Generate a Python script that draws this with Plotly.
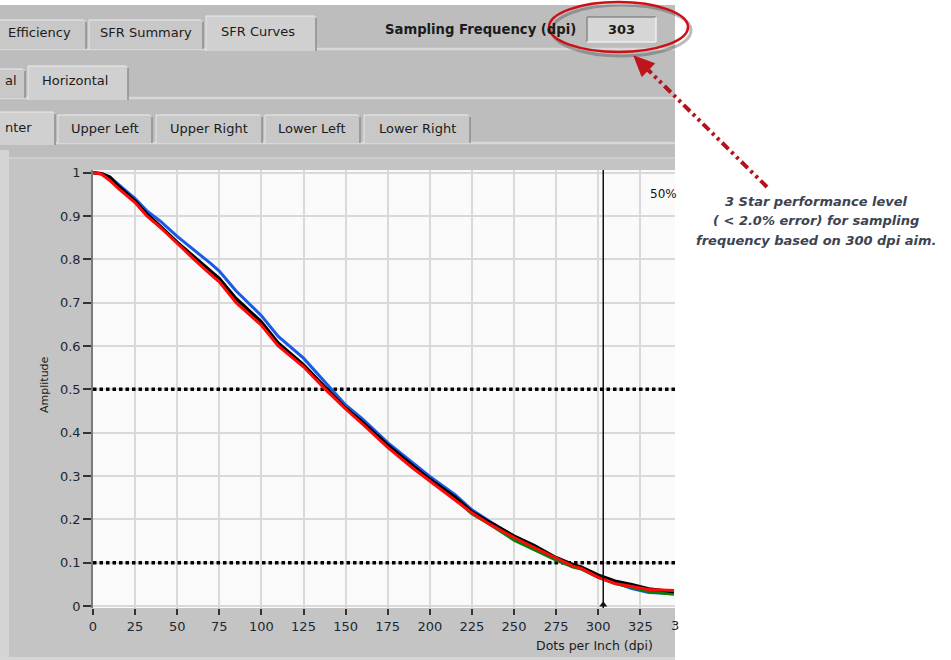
import plotly.graph_objects as go

# ---------------- data ----------------
dpi = [0, 5, 10, 15, 25, 32, 40, 50, 60, 70, 75, 85, 100, 110, 125, 138, 150, 160,
       175, 190, 200, 215, 225, 235, 250, 262, 275, 285, 290, 300, 310, 320, 330, 345]
red = [1, .997, .982, .964, .931, .90, .874, .836, .80, .765, .748, .70, .648, .60, .552, .50, .455, .42,
       .366, .318, .288, .245, .215, .19, .158, .135, .11, .092, .087, .066, .052, .045, .038, .036]
black = [1, .998, .99, .97, .935, .905, .877, .84, .806, .772, .756, .71, .656, .607, .557, .505, .457, .425,
         .372, .324, .293, .252, .218, .195, .162, .14, .112, .096, .09, .072, .058, .05, .04, .033]
green = [1, .997, .985, .966, .932, .902, .874, .838, .804, .77, .753, .707, .653, .605, .555, .503, .457, .423,
         .37, .32, .29, .247, .213, .19, .152, .13, .106, .09, .085, .066, .052, .043, .033, .027]
blue = [1, .998, .99, .973, .94, .912, .888, .853, .822, .79, .773, .727, .67, .622, .572, .515, .464, .432,
        .377, .33, .299, .257, .222, .197, .16, .136, .11, .092, .087, .067, .053, .04, .031, .029]
thresholds = [0.5, 0.1]
cursor_dpi = 303
x_ticks = [0, 25, 50, 75, 100, 125, 150, 175, 200, 225, 250, 275, 300, 325]
y_ticks = [0, 0.1, 0.2, 0.3, 0.4, 0.5, 0.6, 0.7, 0.8, 0.9, 1]
y_ticktext = ["0", "0.1", "0.2", "0.3", "0.4", "0.5", "0.6", "0.7", "0.8", "0.9", "1"]
tabs_row1 = ["Efficiency", "SFR Summary", "SFR Curves"]
tabs_row2 = ["al", "Horizontal"]
tabs_row3 = ["nter", "Upper Left", "Upper Right", "Lower Left", "Lower Right"]
sampling_label = "Sampling Frequency (dpi)"
sampling_value = "303"
note_lines = ["3 Star performance level", "( < 2.0% error) for sampling", "frequency based on 300 dpi aim."]

# ---------------- geometry helpers ----------------
W, H = 951, 660
PL, PR, PT, PB = 93, 675, 170, 608
PX_PER_DPI = 1.684
X_MAX = (PR - PL) / PX_PER_DPI
Y_RANGE = [-0.0046, 1.0062]


def fx(x):
    return (x - PL) / (PR - PL)


def fy(y):
    return (PB - y) / (PB - PT)


shapes = []
annotations = []


def rect(x0, y0, x1, y1, fill, line=None, lw=0, layer="below"):
    shapes.append(dict(type="rect", xref="paper", yref="paper",
                       x0=fx(x0), x1=fx(x1), y0=fy(y1), y1=fy(y0),
                       fillcolor=fill, line=dict(color=line or fill, width=lw), layer=layer))


def seg(x0, y0, x1, y1, color, w=1, dash="solid", layer="below"):
    shapes.append(dict(type="line", xref="paper", yref="paper",
                       x0=fx(x0), x1=fx(x1), y0=fy(y0), y1=fy(y1),
                       line=dict(color=color, width=w, dash=dash), layer=layer))


def text(x, y, s, size=13, color="#1b1b1b", anchor="center", angle=0, family="DejaVu Sans"):
    annotations.append(dict(xref="paper", yref="paper", x=fx(x), y=fy(y), text=s,
                            showarrow=False, xanchor=anchor, yanchor="middle", textangle=angle,
                            font=dict(size=size, color=color, family=family)))


PANEL = "#bdbdbd"
TAB = "#c8c8c8"
TAB_SEL = "#d0d0d0"
LIGHT = "#d8d8d8"
FRAME = "#c4c4c4"


def tab(x0, x1, y0, y1, sel=False):
    rect(x0, y0, x1, y1, TAB_SEL if sel else TAB)
    seg(x0, y0, x1 - 2, y0, "#ececec", 1)
    seg(x0, y0, x0, y1, "#e6e6e6", 1)
    seg(x1, y0 + 2, x1, y1, "#8e8e8e", 1.5)


# main panel
rect(0, 5, 675, 660, PANEL)
# row 1
seg(0, 49, 675, 49, LIGHT, 2.5)
tab(-6, 86, 20, 49)
tab(89, 203, 20, 49)
tab(206, 316, 16, 51, True)
text(6, 33, tabs_row1[0], anchor="left")
text(146, 33, tabs_row1[1])
text(258, 31, tabs_row1[2])
text(480, 30, "<b>" + sampling_label + "</b>", size=13.2)
rect(587, 17, 656, 42, "#d6d6d6")
seg(587, 17, 656, 17, "#8a8a8a", 1.5)
seg(587, 17, 587, 42, "#8a8a8a", 1.5)
seg(587, 42, 656, 42, "#eeeeee", 1.5)
seg(656, 17, 656, 42, "#eeeeee", 1.5)
text(621, 30, "<b>" + sampling_value + "</b>", size=13)
# row 2
seg(0, 98, 675, 98, LIGHT, 2.5)
tab(-6, 25, 69, 98)
tab(28, 128, 66, 100, True)
text(3, 81, tabs_row2[0], anchor="left")
text(75, 80, tabs_row2[1])
# row 3
seg(0, 143, 675, 143, LIGHT, 2.5)
tab(-6, 55, 112, 145, True)
tab(58, 152, 115, 143)
tab(156, 262, 115, 143)
tab(265, 360, 115, 143)
tab(364, 470, 115, 143)
text(3, 127, tabs_row3[0], anchor="left")
text(105, 128, tabs_row3[1])
text(209, 128, tabs_row3[2])
text(312, 128, tabs_row3[3])
text(417, 128, tabs_row3[4])
# graph frame
rect(0, 150, 9, 660, "#d4d4d4")
rect(9, 158, 675, 657, FRAME)
seg(9, 158, 675, 158, "#d2d2d2", 1.5)
rect(0, 657, 675, 660, "#d6d6d6")
rect(PL, PT, PR, PB, "#fafafa")

# axis titles & cut labels
text(44, 384, "Amplitude", size=11, angle=-90)
text(594, 645, "Dots per Inch (dpi)", size=12.5)
text(669, 625, "3", size=13, color="#1c2733", anchor="left")
text(648, 194, "50%", size=12, color="#111111", anchor="left")

# red ellipse highlight with shadow
shapes.append(dict(type="circle", xref="paper", yref="paper", x0=fx(552), x1=fx(691), y0=fy(56), y1=fy(5),
                   line=dict(color="rgba(60,60,60,0.35)", width=3), layer="above"))
shapes.append(dict(type="circle", xref="paper", yref="paper", x0=fx(549), x1=fx(688), y0=fy(52), y1=fy(2),
                   line=dict(color="#cc1016", width=2.5), layer="above"))

# dash-dot-dot arrow
tail = (767, 187)
tip = (634, 56)
dxv, dyv = tip[0] - tail[0], tip[1] - tail[1]
L = (dxv ** 2 + dyv ** 2) ** 0.5
ux, uy = dxv / L, dyv / L
hl, hw = 20, 9
bx, by = tip[0] - hl * ux, tip[1] - hl * uy
px_, py_ = -uy, ux
seg(tail[0], tail[1], bx, by, "#b3141c", 4, dash="9px,4px,3px,4px,3px,4px", layer="above")
p1 = (bx + hw * px_, by + hw * py_)
p2 = (bx - hw * px_, by - hw * py_)
path = "M {} {} L {} {} L {} {} Z".format(fx(tip[0]), fy(tip[1]), fx(p1[0]), fy(p1[1]), fx(p2[0]), fy(p2[1]))
shapes.append(dict(type="path", xref="paper", yref="paper", path=path,
                   fillcolor="#c0141c", line=dict(color="#c0141c", width=1), layer="above"))

# note text
for i, ln in enumerate(note_lines):
    text(816, 201 + i * 19.5, "<b><i>" + ln + "</i></b>", size=13, color="#3c4450")

# cursor line
shapes.append(dict(type="line", xref="x", yref="paper", x0=cursor_dpi, x1=cursor_dpi, y0=0, y1=1,
                   line=dict(color="#111111", width=1.5), layer="above"))

# ---------------- traces ----------------
fig = go.Figure()
for t in thresholds:
    fig.add_trace(go.Scatter(x=[0, X_MAX], y=[t, t], mode="lines",
                             line=dict(color="black", width=3.5, dash="3.5px,3px"),
                             hoverinfo="skip", showlegend=False))
for ys, col in [(blue, "#1a5ae6"), (green, "#0b7d0b"), (black, "#000000"), (red, "#ff0a0a")]:
    fig.add_trace(go.Scatter(x=dpi, y=ys, mode="lines", line=dict(color=col, width=3),
                             showlegend=False))
fig.add_trace(go.Scatter(x=[cursor_dpi], y=[0.003], mode="markers",
                         marker=dict(symbol="triangle-up", size=7, color="#111111"),
                         showlegend=False, cliponaxis=False))

fig.update_layout(
    width=W, height=H,
    margin=dict(l=PL, r=W - PR, t=PT, b=H - PB, pad=0),
    paper_bgcolor="white", plot_bgcolor="#fafafa",
    shapes=shapes, annotations=annotations,
    font=dict(family="DejaVu Sans", size=13, color="#1c2733"),
    xaxis=dict(range=[0, X_MAX], tickvals=x_ticks, showgrid=True, gridcolor="#d9d9d9", gridwidth=1.5,
               zeroline=False, showline=False, ticks="outside", ticklen=6, tickwidth=1.5,
               tickcolor="#333333", tickfont=dict(size=13, color="#1c2733")),
    yaxis=dict(range=Y_RANGE, tickvals=y_ticks, ticktext=y_ticktext, showgrid=True, gridcolor="#d9d9d9",
               gridwidth=1.5, zeroline=False, showline=True, linecolor="#7a7a7a", linewidth=1.5,
               ticks="outside", ticklen=8, tickwidth=1.5, tickcolor="#333333",
               tickfont=dict(size=13, color="#1c2733")),
)

fig.write_html("out.html", config={"displayModeBar": False},
               post_script="document.body.style.margin='0px';")
